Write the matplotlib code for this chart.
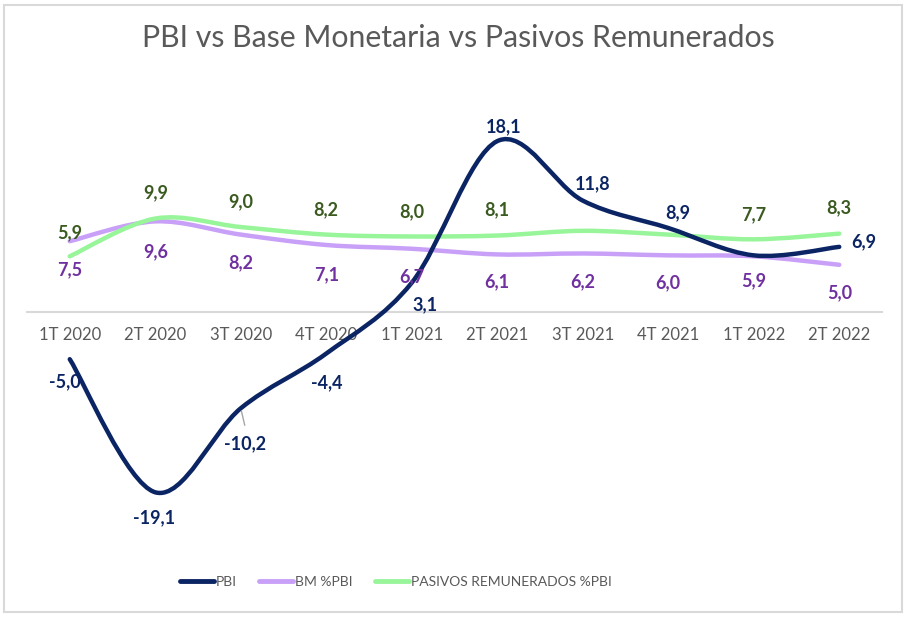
import matplotlib
matplotlib.use('Agg')
import matplotlib.pyplot as plt
from matplotlib.path import Path
from matplotlib.patches import PathPatch, Rectangle
from matplotlib.lines import Line2D

plt.rcParams['font.family'] = ['Lato', 'DejaVu Sans']

# ---------------- data ----------------
categories = ['1T 2020', '2T 2020', '3T 2020', '4T 2020', '1T 2021',
              '2T 2021', '3T 2021', '4T 2021', '1T 2022', '2T 2022']
pbi = [-5.0, -19.1, -10.2, -4.4, 3.1, 18.1, 11.8, 8.9, 6.0, 6.9]
bm_pbi = [7.5, 9.6, 8.2, 7.1, 6.7, 6.1, 6.2, 6.0, 5.9, 5.0]
pasivos_pbi = [5.9, 9.9, 9.0, 8.2, 8.0, 8.1, 8.6, 8.2, 7.7, 8.3]
pbi_shown = [True, True, True, True, True, True, True, True, False, True]
bm_shown = [True] * 10
pasivos_shown = [True, True, True, True, True, True, False, False, True, True]

# ---------------- style ----------------
C_PBI = '#0B2463'
C_BM = '#C9A0F7'
C_PAS = '#98F59A'
L_PBI = '#0B2463'
L_BM = '#7030A0'
L_PAS = '#3A5A1F'
GRAY = '#595959'

# label offsets in pixels (dx, dy up)
pbi_off = [(-5, -23), (-1, -25), (4, -35), (0, -29), (13, -22),
           (6, 14), (10, 17), (10, 15), (0, 0), (24, 5)]
bm_off = [(0, -29), (0, -30), (0, -28), (0, -30), (0, -28),
          (0, -27), (0, -28), (0, -27), (0, -24), (0, -28)]
pas_off = [(0, 24), (0, 26), (0, 25), (0, 25), (0, 25),
           (0, 26), (0, 25), (0, 25), (0, 25), (0, 26)]

fig = plt.figure(figsize=(9.16, 6.21), dpi=100)
ax = fig.add_axes([27 / 916, 1 - 548 / 621, (882 - 27) / 916, 472 / 621])

x = list(range(len(categories)))


def smooth_path(xs, ys):
    pts = list(zip(xs, ys))
    n = len(pts)
    verts = [pts[0]]
    codes = [Path.MOVETO]
    for i in range(n - 1):
        p0 = pts[i - 1] if i > 0 else pts[i]
        p1 = pts[i]
        p2 = pts[i + 1]
        p3 = pts[i + 2] if i + 2 < n else pts[i + 1]
        c1 = (p1[0] + (p2[0] - p0[0]) / 6, p1[1] + (p2[1] - p0[1]) / 6)
        c2 = (p2[0] - (p3[0] - p1[0]) / 6, p2[1] - (p3[1] - p1[1]) / 6)
        verts += [c1, c2, p2]
        codes += [Path.CURVE4] * 3
    return Path(verts, codes)


for ys, col, z in [(bm_pbi, C_BM, 2), (pasivos_pbi, C_PAS, 3), (pbi, C_PBI, 4)]:
    ax.add_patch(PathPatch(smooth_path(x, ys), fill=False, edgecolor=col,
                           lw=3.2, capstyle='round', joinstyle='round', zorder=z))


def add_labels(ys, shown, offs, color):
    for xi, yi, s, off in zip(x, ys, shown, offs):
        if not s:
            continue
        ax.annotate(f'{yi:.1f}'.replace('.', ','), (xi, yi),
                    xytext=off, textcoords='offset pixels',
                    ha='center', va='center', fontsize=13,
                    fontweight='bold', color=color, zorder=6)


add_labels(pbi, pbi_shown, pbi_off, L_PBI)
add_labels(bm_pbi, bm_shown, bm_off, L_BM)
add_labels(pasivos_pbi, pasivos_shown, pas_off, L_PAS)

# leader line for 3T 2020 PBI label
ax.annotate('', xy=(x[2], pbi[2]), xytext=(4, -17), textcoords='offset pixels',
            arrowprops=dict(arrowstyle='-', color='#A6A6A6', lw=1,
                            shrinkA=0, shrinkB=2), zorder=5)

ax.set_xlim(-0.5, len(categories) - 0.5)
ax.set_ylim(-25, 25)
for s in ['left', 'right', 'top']:
    ax.spines[s].set_visible(False)
ax.spines['bottom'].set_position(('data', 0))
ax.spines['bottom'].set_color('#D9D9D9')
ax.spines['bottom'].set_linewidth(1.5)
ax.spines['bottom'].set_zorder(1)
ax.set_xticks(x)
ax.set_xticklabels(categories, fontsize=12, color=GRAY)
ax.tick_params(axis='x', length=0, pad=11)
ax.set_yticks([])
ax.patch.set_visible(False)

fig.text(0.5, 1 - 38 / 621, 'PBI vs Base Monetaria vs Pasivos Remunerados',
         ha='center', va='center', fontsize=21.8, color=GRAY)

handles = [Line2D([], [], color=C_PBI, lw=3.5, solid_capstyle='round'),
           Line2D([], [], color=C_BM, lw=3.5, solid_capstyle='round'),
           Line2D([], [], color=C_PAS, lw=3.5, solid_capstyle='round')]
fig.legend(handles, ['PBI', 'BM %PBI', 'PASIVOS REMUNERADOS %PBI'],
           loc='center', bbox_to_anchor=(0.432, 1 - 582 / 621), ncol=3,
           frameon=False, fontsize=10, handlelength=2.45, handletextpad=0.1,
           columnspacing=1.65, labelcolor=GRAY)

fig.patches.append(Rectangle((4 / 916, 1 - 612 / 621), 898 / 916, 607 / 621,
                             transform=fig.transFigure, fill=False,
                             edgecolor='#D9D9D9', lw=1.5))

fig.savefig('out.png', dpi=100)
